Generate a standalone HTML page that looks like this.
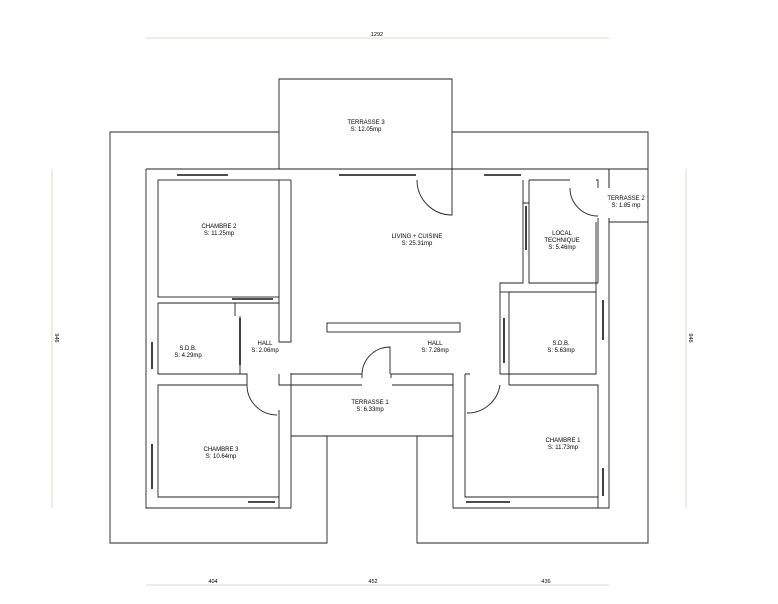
<!DOCTYPE html>
<html><head><meta charset="utf-8"><style>
html,body{margin:0;padding:0;background:#fff}
svg{display:block}
text{font-family:"Liberation Sans",sans-serif;font-size:6px;fill:#000;text-anchor:middle}
</style></head><body>
<svg width="778" height="604" viewBox="0 0 778 604" xmlns="http://www.w3.org/2000/svg">
<g fill="none" stroke="#222" stroke-width="0.9">
<path d="M279,132 H110 V543 H327 V436"/>
<path d="M452,132 H648 V543 H417 V436"/>
<path d="M279,169 V79 H452 V180"/>
<path d="M609,169 H648 M609,222 H648"/>
<!-- building outer -->
<path d="M146,169 H609 V188 M609,218 V508 H453 M291,508 H146 V169"/>
<rect x="158" y="180" width="121" height="117"/>
<path d="M279,297 V342 H291 V180"/>
<path d="M279,180 H291"/>
<path d="M158,303 H235 V316 M240,316 V374 M158,303 V374 H240"/>
<path d="M235,303 H279"/>
<path d="M247,385 H158 V497 H279 V410"/>
<path d="M240,374 H247 V385"/>
<path d="M291,373 V508 M279,374 V385 H291 M279,497 V508"/>
<path d="M291,374 H362 V378 M391,378 V374 H453 V508"/>
<path d="M291,385 H362 M392,385 H453"/>
<path d="M291,436 H453"/>
<path d="M465,374 V497 H598 V385 H509"/>
<path d="M465,374 H470 M500,374 H509 V385"/>
<path d="M598,497 V508"/>
<path d="M509,374 V292 H596 V374 H509"/>
<path d="M596,292 V222"/>
<path d="M523,180 V203 H529 V180 M529,180 H570 M596,180 H598 V188 M598,218 V283"/>
<path d="M529,203 V283 H598"/>
<path d="M523,203 V283 H500 V374"/>
<path d="M500,292 H509"/>
<path d="M609,188 V169 M609,218 V222"/>
<rect x="327" y="323" width="133" height="9"/>
<path d="M417,180 A35,35 0 0 0 452,215 V180"/>
<path d="M570,188 A28,28 0 0 0 598,216"/>
<path d="M362,374 A28,28 0 0 1 390,347 V374"/>
<path d="M247,385 A30,30 0 0 0 277,415"/>
<path d="M500,385 A33,33 0 0 1 467,413"/>
</g>
<g stroke="#111" stroke-width="1.6">
<line x1="177" y1="175" x2="228" y2="175"/>
<line x1="339" y1="175" x2="416" y2="175"/>
<line x1="484" y1="175" x2="521" y2="175"/>
<line x1="152" y1="342" x2="152" y2="369"/>
<line x1="152" y1="444" x2="152" y2="489"/>
<line x1="248" y1="502" x2="275" y2="502"/>
<line x1="466" y1="502" x2="510" y2="502"/>
<line x1="603" y1="468" x2="603" y2="496"/>
<line x1="603" y1="300" x2="603" y2="340"/>
<line x1="240" y1="318" x2="240" y2="365"/>
<line x1="526" y1="206" x2="526" y2="250"/>
<line x1="504" y1="318" x2="504" y2="363"/>
<line x1="232" y1="299" x2="273" y2="299"/>
</g>
<g stroke="#cfd3b5" stroke-width="0.8">
<line x1="146" y1="38" x2="609" y2="38"/>
<line x1="146" y1="585" x2="609" y2="585"/>
<line x1="52" y1="169" x2="52" y2="508"/>
<line x1="686" y1="169" x2="686" y2="508"/>
</g>
<text x="377" y="36" style="font-size:5.5px">1292</text>
<text x="213" y="583" style="font-size:5.5px">404</text>
<text x="373" y="583" style="font-size:5.5px">452</text>
<text x="546" y="583" style="font-size:5.5px">436</text>
<text transform="translate(55,338) rotate(90)" style="font-size:5.5px">946</text>
<text transform="translate(689,338) rotate(90)" style="font-size:5.5px">946</text>
<text x="366" y="124">TERRASSE 3</text><text x="366" y="131">S: 12.05mp</text>
<text x="219" y="228">CHAMBRE 2</text><text x="219" y="235">S: 11.25mp</text>
<text x="417" y="238">LIVING + CUISINE</text><text x="417" y="245">S: 25.31mp</text>
<text x="562" y="235">LOCAL</text><text x="562" y="242">TECHNIQUE</text><text x="562" y="249">S: 5.46mp</text>
<text x="626" y="200">TERRASSE 2</text><text x="626" y="207">S: 1.85 mp</text>
<text x="188" y="350">S.D.B.</text><text x="188" y="357">S: 4.29mp</text>
<text x="265" y="345">HALL</text><text x="265" y="352">S: 2.06mp</text>
<text x="435" y="345">HALL</text><text x="435" y="352">S: 7.28mp</text>
<text x="561" y="345">S.D.B.</text><text x="561" y="352">S: 5.63mp</text>
<text x="370" y="404">TERRASSE 1</text><text x="370" y="411">S: 6.33mp</text>
<text x="221" y="451">CHAMBRE 3</text><text x="221" y="458">S: 10.64mp</text>
<text x="563" y="442">CHAMBRE 1</text><text x="563" y="449">S: 11.73mp</text>
</svg>
</body></html>
